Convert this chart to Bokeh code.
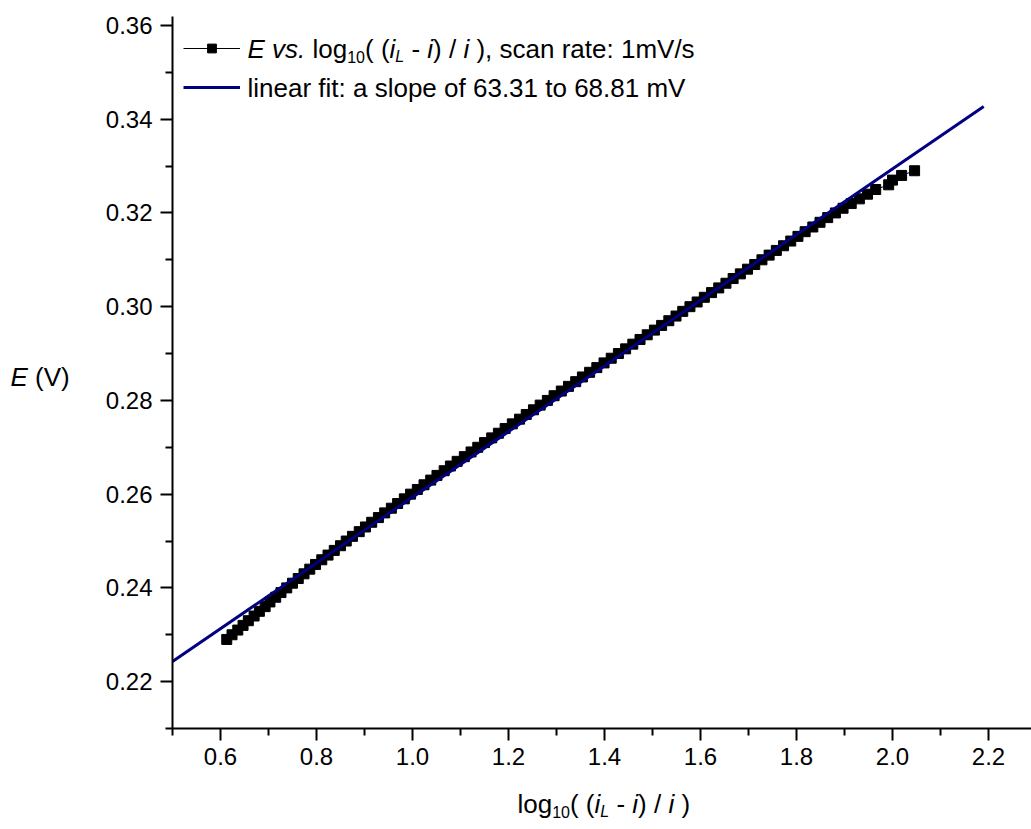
from bokeh.plotting import figure
from bokeh.layouts import column, row
from bokeh.models import (FixedTicker, PrintfTickFormatter, Label, Legend,
                          LegendItem, ColumnDataSource, Range1d)
from bokeh.embed import file_html
from bokeh.resources import INLINE

# ---------------- data ----------------
log_ratio = [0.613, 0.624, 0.636, 0.647, 0.658, 0.670, 0.681, 0.693, 0.703, 0.715,
             0.726, 0.738, 0.750, 0.762, 0.774, 0.786, 0.798, 0.811, 0.824, 0.837,
             0.850, 0.862, 0.875, 0.889, 0.902, 0.915, 0.929, 0.942, 0.956, 0.969,
             0.983, 0.996, 1.010, 1.024, 1.038, 1.051, 1.066, 1.079, 1.093, 1.108,
             1.122, 1.136, 1.150, 1.165, 1.179, 1.193, 1.208, 1.223, 1.237, 1.252,
             1.266, 1.281, 1.295, 1.310, 1.325, 1.340, 1.354, 1.369, 1.384, 1.399,
             1.414, 1.429, 1.444, 1.459, 1.474, 1.489, 1.504, 1.519, 1.534, 1.549,
             1.563, 1.578, 1.593, 1.608, 1.623, 1.638, 1.653, 1.668, 1.683, 1.698,
             1.713, 1.728, 1.743, 1.758, 1.773, 1.788, 1.803, 1.818, 1.834, 1.849,
             1.865, 1.881, 1.897, 1.914, 1.931, 1.948, 1.965, 1.992, 2.000, 2.019,
             2.046]
E_volts = [0.229, 0.230, 0.231, 0.232, 0.233, 0.234, 0.235, 0.236, 0.237, 0.238,
           0.239, 0.240, 0.241, 0.242, 0.243, 0.244, 0.245, 0.246, 0.247, 0.248,
           0.249, 0.250, 0.251, 0.252, 0.253, 0.254, 0.255, 0.256, 0.257, 0.258,
           0.259, 0.260, 0.261, 0.262, 0.263, 0.264, 0.265, 0.266, 0.267, 0.268,
           0.269, 0.270, 0.271, 0.272, 0.273, 0.274, 0.275, 0.276, 0.277, 0.278,
           0.279, 0.280, 0.281, 0.282, 0.283, 0.284, 0.285, 0.286, 0.287, 0.288,
           0.289, 0.290, 0.291, 0.292, 0.293, 0.294, 0.295, 0.296, 0.297, 0.298,
           0.299, 0.300, 0.301, 0.302, 0.303, 0.304, 0.305, 0.306, 0.307, 0.308,
           0.309, 0.310, 0.311, 0.312, 0.313, 0.314, 0.315, 0.316, 0.317, 0.318,
           0.319, 0.320, 0.321, 0.322, 0.323, 0.324, 0.325, 0.326, 0.327, 0.328,
           0.329]

fit_x = [0.5, 2.19]
fit_E = [0.2243, 0.3427]

x_ticks = [0.6, 0.8, 1.0, 1.2, 1.4, 1.6, 1.8, 2.0, 2.2]
x_minor = [0.5, 0.7, 0.9, 1.1, 1.3, 1.5, 1.7, 1.9, 2.1]
y_ticks = [0.22, 0.24, 0.26, 0.28, 0.30, 0.32, 0.34, 0.36]
y_minor = [0.21, 0.23, 0.25, 0.27, 0.29, 0.31, 0.33, 0.35]

legend_fit_text = "linear fit: a slope of 63.31 to 68.81 mV"

# ---------------- geometry (page pixels) ----------------
PAGE_W, PAGE_H = 1031, 829
YT_W = 80                      # left strip holding the y title
MAIN_H = 780                   # main figure height; x title strip below
FRAME_LEFT, FRAME_TOP, FRAME_BOTTOM = 172, 16, 728
MAIN_W = PAGE_W - YT_W
BL = FRAME_LEFT - YT_W
BT = FRAME_TOP
BB = MAIN_H - FRAME_BOTTOM
FW = MAIN_W - BL
FH = FRAME_BOTTOM - FRAME_TOP
PX_PER_X = 480.0
PX_PER_Y = 4687.0
X0, Y0 = 0.5, 0.21
X1 = X0 + FW / PX_PER_X
Y1 = Y0 + FH / PX_PER_Y

FONT = "Liberation Sans"
NAVY = "#000080"


def dx(px):
    return X0 + (px - FRAME_LEFT) / PX_PER_X


def dy(py):
    return Y0 + (FRAME_BOTTOM - py) / PX_PER_Y


p = figure(width=MAIN_W, height=MAIN_H, output_backend="svg", toolbar_location=None,
           x_range=Range1d(X0, X1), y_range=Range1d(Y0, Y1),
           min_border_left=BL, min_border_right=0,
           min_border_top=BT, min_border_bottom=BB)
p.outline_line_color = None
p.grid.visible = False
p.background_fill_color = "white"
p.border_fill_color = "white"

src = ColumnDataSource(dict(x=log_ratio, E=E_volts))
r_line = p.line("x", "E", source=src, line_color="black", line_width=1)
r_pts = p.scatter("x", "E", source=src, marker="square", size=10,
                  fill_color="black", line_color="black")
r_fit = p.line(fit_x, fit_E, line_color=NAVY, line_width=3)

for ax, ticks, minor, fmt, standoff in (
        (p.xaxis[0], x_ticks, x_minor, "%.1f", 7),
        (p.yaxis[0], y_ticks, y_minor, "%.2f", 8)):
    ax.ticker = FixedTicker(ticks=ticks, minor_ticks=minor)
    ax.formatter = PrintfTickFormatter(format=fmt)
    ax.axis_line_width = 2
    ax.axis_line_color = "black"
    ax.major_tick_line_width = 2
    ax.minor_tick_line_width = 2
    ax.major_tick_in = 0
    ax.major_tick_out = 12
    ax.minor_tick_in = 0
    ax.minor_tick_out = 7
    ax.major_label_text_font = FONT
    ax.major_label_text_font_size = "24px"
    ax.major_label_text_color = "black"
    ax.major_label_standoff = standoff
    ax.axis_label = None

legend = Legend(items=[LegendItem(label=" ", renderers=[r_line, r_pts]),
                       LegendItem(label=" ", renderers=[r_fit])],
                location=(11, 630), padding=0, margin=0, spacing=17,
                glyph_width=57, glyph_height=22, label_height=22,
                label_text_font_size="1px", label_standoff=0,
                border_line_color=None, background_fill_alpha=0)
p.add_layout(legend)


def strip(w, h):
    f = figure(width=w, height=h, output_backend="svg", toolbar_location=None,
               x_range=Range1d(0, w), y_range=Range1d(h, 0),
               x_axis_location=None, y_axis_location=None, min_border=0)
    f.outline_line_color = None
    f.grid.visible = False
    f.background_fill_color = "white"
    f.border_fill_color = "white"
    return f


yfig = strip(YT_W, MAIN_H)
xfig = strip(PAGE_W, PAGE_H - MAIN_H)

# ---------------- rich text ----------------
WID = {'E': 667, ' ': 278, 'v': 500, 's': 500, '.': 278, 'l': 222, 'o': 556,
       'g': 556, '0': 556, '1': 556, '2': 556, '3': 556, '4': 556, '5': 556,
       '6': 556, '7': 556, '8': 556, '9': 556, '(': 333, ')': 333, 'i': 222,
       'L': 556, '-': 333, '/': 278, ',': 278, 'c': 500, 'a': 556, 'n': 556,
       'r': 333, 't': 278, 'e': 556, ':': 278, 'm': 833, 'V': 667, 'f': 278,
       'p': 556}


def tw(s, size):
    return sum(WID.get(c, 556) for c in s) / 1000.0 * size


def rich(fig, cx, cy, parts, x0, yc, size=26, sub_size=16, sub_dy=8):
    x = x0
    for text, style, sub in parts:
        fs = sub_size if sub else size
        lead = len(text) - len(text.lstrip(' '))
        body = text.strip(' ')
        if body:
            fig.add_layout(Label(x=cx(x + tw(' ' * lead, fs)),
                                 y=cy(yc + (sub_dy if sub else 0)),
                                 text=body, text_font=FONT,
                                 text_font_size=f"{fs}px", text_font_style=style,
                                 text_color="black", text_baseline="middle",
                                 text_align="left"))
        x += tw(text, fs)


N, I = "normal", "italic"
rich(p, dx, dy,
     [("E", I, False), (" vs.", I, False), (" log", N, False), ("10", N, True),
      ("( (", N, False), ("i", I, False), ("L", I, True), (" - ", N, False),
      ("i", I, False), (") / ", N, False), ("i", I, False),
      (" ), scan rate: 1mV/s", N, False)], 247, 48)
rich(p, dx, dy, [(legend_fit_text, N, False)], 247, 87)

# x-axis title (strip below the main figure)
rich(xfig, lambda v: v, lambda v: v - MAIN_H,
     [("log", N, False), ("10", N, True), ("( (", N, False), ("i", I, False),
      ("L", I, True), (" - ", N, False), ("i", I, False), (") / ", N, False),
      ("i", I, False), (" )", N, False)], 517, 803)
# y-axis title (strip left of the main figure)
rich(yfig, lambda v: v, lambda v: v,
     [("E", I, False), (" (V)", N, False)], 10, 395)

layout = column(row(yfig, p, spacing=0), xfig, spacing=0)
open("out.html", "w").write(file_html(layout, INLINE))
